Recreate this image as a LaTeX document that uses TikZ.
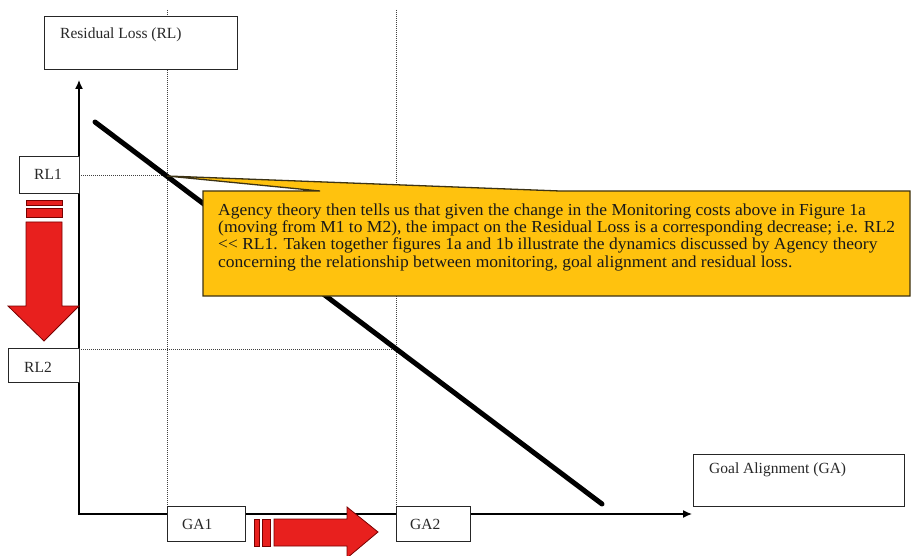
\documentclass[tikz,border=0pt]{standalone}
\usepackage{fontspec}
\setmainfont{Liberation Serif}
\newfontfamily\notefont{Liberation Serif}[FakeStretch=1.042]
\usetikzlibrary{arrows.meta,calc}
\definecolor{calloutfill}{RGB}{255,194,14}
\definecolor{calloutedge}{RGB}{60,50,20}
\definecolor{arrowred}{RGB}{232,32,30}
\definecolor{arrowedge}{RGB}{120,0,0}
\definecolor{labeltext}{RGB}{40,40,40}
\tikzset{
  box/.style={draw=black!85, line width=0.9pt, fill=white, inner sep=0pt, anchor=north west},
  lbl/.style={anchor=base west, inner sep=0pt, text=labeltext, font=\fontsize{15.5}{17.6}\selectfont},
  guide/.style={draw=black!75, line width=1pt, dash pattern=on 1pt off 1pt},
  axis/.style={draw=black, line width=1.4pt, -{Latex[length=9pt,width=8pt]}},
  trend/.style={draw=black, line width=5pt, line cap=round},
  bigarrow/.style={fill=arrowred, draw=arrowedge, line width=0.8pt, line join=miter},
}
\begin{document}
\begin{tikzpicture}[x=1pt,y=-1pt]
\useasboundingbox (0,0) rectangle (913,556);

% axes origin and tips
\coordinate (O) at (79,515);
\coordinate (ytip) at (79,80);
\coordinate (xtip) at (692,514);
\coordinate (xstart) at (79,514);

% dotted guides
\coordinate (g1top) at (167,10);
\coordinate (g2top) at (396,10);
\coordinate (rl1end) at (167,176);
\coordinate (rl2end) at (396,349);
\coordinate (rl1start) at (79,176);
\coordinate (rl2start) at (79,349);
\coordinate (g1bot) at (167,506);
\coordinate (g2bot) at (396,506);
\draw[guide] (g1top) -- (g1bot);
\draw[guide] (g2top) -- (g2bot);
\draw[guide] (rl1start) -- (rl1end);
\draw[guide] (rl2start) -- (rl2end);

% axes
\draw[axis] (O) -- (ytip);
\draw[axis] (xstart) -- (xtip);

% trend line
\coordinate (tstart) at (95,122);
\coordinate (tend) at (602,504);
\draw[trend] (tstart) -- (tend);

% axis title boxes
\node[box, minimum width=193, minimum height=53] (rlbox) at (44,16) {};
\node[lbl] (rltext) at (60,39) {Residual Loss (RL)};
\node[box, minimum width=211, minimum height=52] (gabox) at (693,454) {};
\node[lbl] (gatext) at (709,473) {Goal Alignment (GA)};

% level boxes
\node[box, minimum width=60, minimum height=37] (rl1) at (19,156) {};
\node[lbl] at (34,180) {RL1};
\node[box, minimum width=71, minimum height=34] (rl2) at (8,348) {};
\node[lbl] at (24,372) {RL2};
\node[box, minimum width=78, minimum height=35] (ga1) at (167,506) {};
\node[lbl] at (182,529) {GA1};
\node[box, minimum width=74, minimum height=35] (ga2) at (396,506) {};
\node[lbl] at (410,529) {GA2};

% callout (base anchor sits on the last line)
\draw[fill=calloutfill, draw=calloutedge, line width=1.3pt, line join=miter]
  (203,191) -- (320,191) -- (rl1end) -- (560,191) -- (910,191)
  -- (910,296) -- (203,296) -- cycle;
\node[anchor=base west, inner sep=0pt, align=left, text=black!90,
      font=\notefont\fontsize{16.8}{17.5}\selectfont] (note) at (218,267.5)
  {Agency theory then tells us that given the change in the Monitoring costs above in Figure 1a\\
   (moving from M1 to M2), the impact on the Residual Loss is a corresponding decrease; i.e. RL2\\
   {<}{<} RL1. Taken together figures 1a and 1b illustrate the dynamics discussed by Agency theory\\
   concerning the relationship between monitoring, goal alignment and residual loss.};

% downward block arrow
\draw[bigarrow] (26,200) rectangle (62,205);
\draw[bigarrow] (26,208) rectangle (62,217);
\draw[bigarrow] (26,222) -- (62,222) -- (62,306) -- (79,306) -- (44,341)
  -- (8,306) -- (26,306) -- cycle;

% rightward block arrow
\draw[bigarrow] (254,519) rectangle (259,546);
\draw[bigarrow] (262,519) rectangle (270,546);
\draw[bigarrow] (274,519) -- (347,519) -- (347,507) -- (378,532) -- (347,558)
  -- (347,546) -- (274,546) -- cycle;
\end{tikzpicture}
\end{document}
